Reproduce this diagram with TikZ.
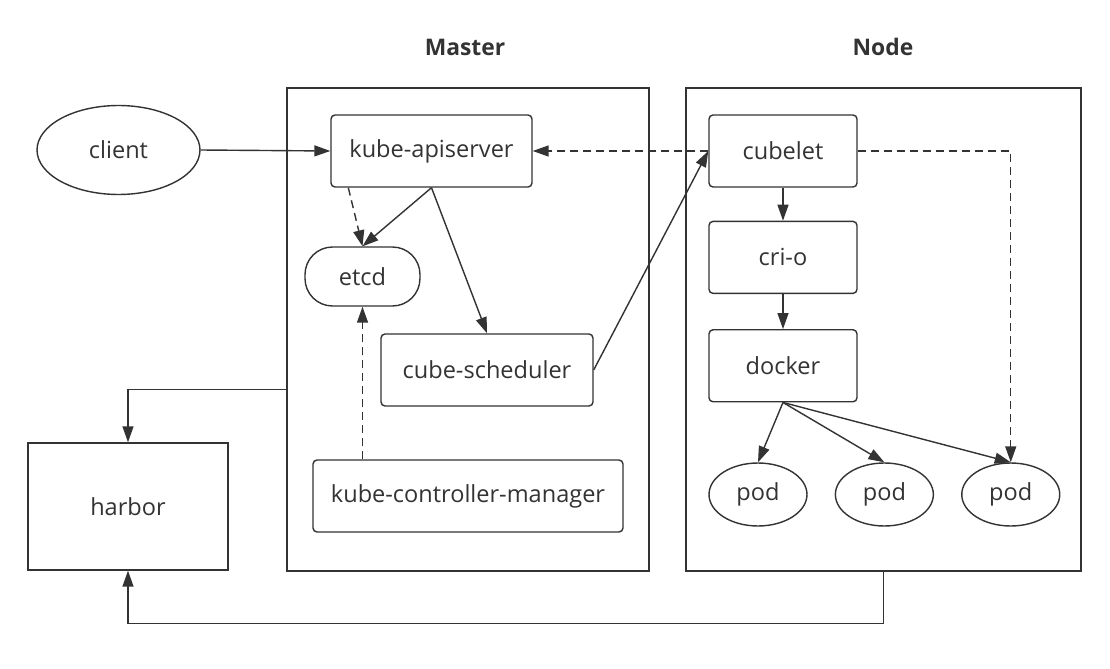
\documentclass[tikz,border=0pt]{standalone}
\usepackage{fontspec}
\setmainfont{Open Sans}
\usepackage{xcolor}
\usepackage{tikz}
\usetikzlibrary{shapes,arrows.meta,positioning}
\definecolor{ink}{HTML}{333333}

\begin{document}
\begin{tikzpicture}[
    x=0.02cm, y=0.02cm,
    font=\fontsize{13.4}{15}\selectfont, text=ink,
    comp/.style={rectangle, draw=ink, line width=0.8pt, rounded corners=0.08cm, minimum width=2.96cm, minimum height=1.44cm},
    group/.style={rectangle, draw=ink, line width=0.8pt, minimum height=9.66cm},
    pod/.style={ellipse, draw=ink, line width=0.8pt, minimum width=1.96cm, minimum height=1.26cm},
    title/.style={font=\bfseries\fontsize{13}{15}\selectfont},
    arrow/.style={draw=ink, line width=0.8pt, ->, >={Triangle[length=0.32cm,width=0.22cm]}},
    dasharrow/.style={arrow, dash pattern=on 0.16cm off 0.1cm}
]
    \useasboundingbox (0,0) rectangle (1110,-669);

    \node[group, minimum width=7.24cm] (master) at (468,-329.5) {};
    \node[group, minimum width=7.9cm] (nodebox) at (883.5,-329.5) {};
    \node[title] (mastertitle) at (465,-47) {Master};
    \node[title] (nodetitle) at (883,-47) {Node};

    \node[ellipse, draw=ink, line width=0.8pt, minimum width=3.26cm, minimum height=1.78cm] (client) at (118.5,-150) {client};
    \node[rectangle, draw=ink, line width=0.8pt, minimum width=4cm, minimum height=2.54cm] (harbor) at (128,-506.5) {harbor};

    \node[comp, minimum width=4.02cm] (api) at (431.5,-151) {kube-apiserver};
    \node[comp, rounded corners=0.55cm, minimum width=2.3cm, minimum height=1.18cm] (etcd) at (362.5,-276.5) {etcd};
    \node[comp, minimum width=4.24cm] (sched) at (487,-370) {cube-scheduler};
    \node[comp, minimum width=6.2cm] (kcm) at (468,-496) {kube-controller-manager};

    \node[comp] (cubelet) at (783,-151) {cubelet};
    \node[comp, below=0.66cm of cubelet] (crio) {cri-o};
    \node[comp, below=0.7cm of crio] (docker) {docker};
    \node[pod] (pod1) at (758,-494.5) {pod};
    \node[pod, right=0.54cm of pod1] (pod2) {pod};
    \node[pod, right=0.54cm of pod2] (pod3) {pod};

    \draw[arrow] (client.east) -- (api.west);
    \draw[dasharrow] ([xshift=0.36cm]api.south west) -- (etcd.north);
    \draw[arrow] (api.south) -- (etcd.north);
    \draw[arrow] (api.south) -- (sched.north);
    \draw[dasharrow] (etcd.south |- kcm.north) -- (etcd.south);
    \draw[arrow] (sched.east) -- (cubelet.west);
    \draw[dasharrow] (cubelet.west) -- (api.east);

    \draw[arrow] (cubelet) -- (crio);
    \draw[arrow] (crio) -- (docker);
    \foreach \p in {pod1,pod2,pod3}
        \draw[arrow] (docker.south) -- (\p.north);
    \draw[dasharrow] (cubelet.east) -| (pod3.north);

    \draw[arrow] ([yshift=-1.2cm]master.west) -| (harbor.north);
    \draw[arrow] (nodebox.south) -- ++(0,-52) -| (harbor.south);
\end{tikzpicture}
\end{document}
